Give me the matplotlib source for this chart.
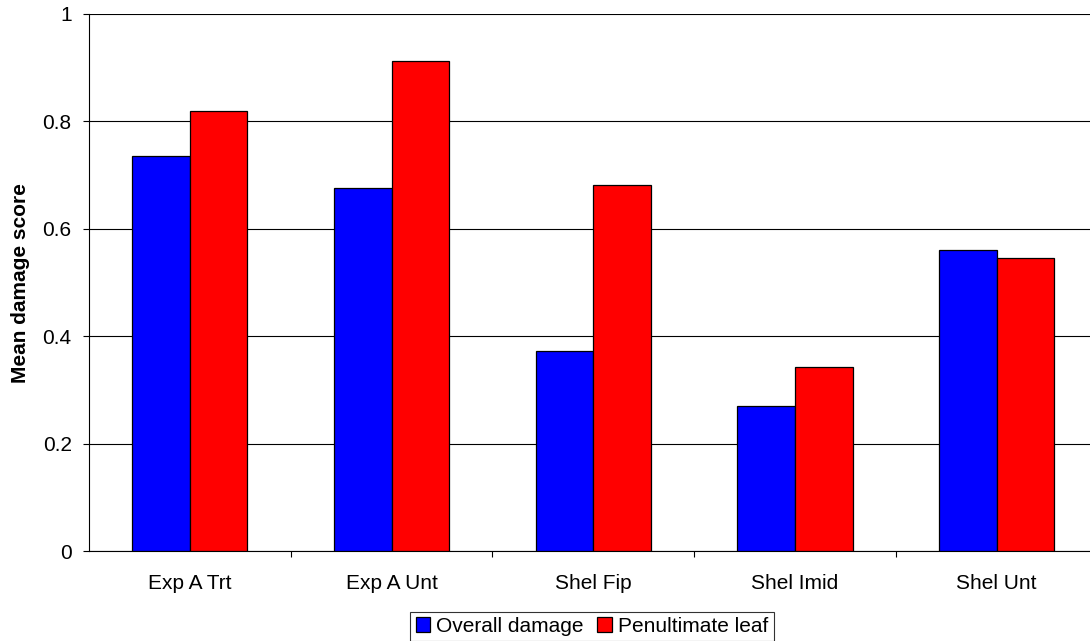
import numpy as np
import matplotlib
matplotlib.use("Agg")
import matplotlib.pyplot as plt
from matplotlib.ticker import FixedLocator

# --- Data ---
categories = ["Exp A Trt", "Exp A Unt", "Shel Fip", "Shel Imid", "Shel Unt"]
overall_damage = [0.735, 0.676, 0.372, 0.270, 0.560]
penultimate_leaf = [0.820, 0.913, 0.682, 0.343, 0.545]
y_ticks = [0, 0.2, 0.4, 0.6, 0.8, 1]
y_tick_labels = ["0", "0.2", "0.4", "0.6", "0.8", "1"]

# --- Style ---
plt.rcParams["font.family"] = ["Liberation Sans", "DejaVu Sans"]
FONT_SIZE = 15

fig = plt.figure(figsize=(10.9, 6.41), dpi=100)
# plot area runs slightly past the right edge of the canvas
ax = fig.add_axes([89 / 1090, 89.7 / 641, 1008.5 / 1090, 537.5 / 641])

x = np.arange(len(categories))
width = 1 / 3.5  # gap width 150% of a bar

ax.set_axisbelow(True)
ax.yaxis.grid(True, color="black", linewidth=0.8)
ax.bar(x - width / 2, overall_damage, width, color="#0000ff", edgecolor="black",
       linewidth=0.9, label="Overall damage", zorder=3)
ax.bar(x + width / 2, penultimate_leaf, width, color="#ff0000", edgecolor="black",
       linewidth=0.9, label="Penultimate leaf", zorder=3)

ax.set_xlim(-0.5, len(categories) - 0.5)
ax.set_ylim(0, 1)
ax.set_yticks(y_ticks)
ax.set_yticklabels(y_tick_labels)

ax.set_xticks(x)
ax.set_xticklabels(categories)
ax.xaxis.set_minor_locator(FixedLocator(np.arange(0.5, len(categories) - 0.5, 1)))
ax.tick_params(axis="x", which="major", length=0, pad=16.5, labelsize=FONT_SIZE)
ax.tick_params(axis="x", which="minor", length=4.5, width=0.8, direction="out")
ax.tick_params(axis="y", length=4.5, width=0.8, pad=8, labelsize=FONT_SIZE)

for side in ("top", "right"):
    ax.spines[side].set_visible(False)
for side in ("left", "bottom"):
    ax.spines[side].set_color("black")
    ax.spines[side].set_linewidth(0.8)

fig.text(21 / 1090, 1 - 283 / 641, "Mean damage score", rotation=90,
         ha="center", va="center", fontsize=FONT_SIZE, fontweight="bold")

leg = fig.legend(loc="lower center", bbox_to_anchor=(592 / 1090, 0.0), ncol=2,
                 fontsize=FONT_SIZE, frameon=True, fancybox=False, shadow=False,
                 borderaxespad=0, borderpad=0.25, handlelength=0.7, handleheight=0.7,
                 handletextpad=0.3, columnspacing=0.65)
leg.get_frame().set_edgecolor("black")
leg.get_frame().set_linewidth(0.8)

fig.savefig("out.png", dpi=100)
